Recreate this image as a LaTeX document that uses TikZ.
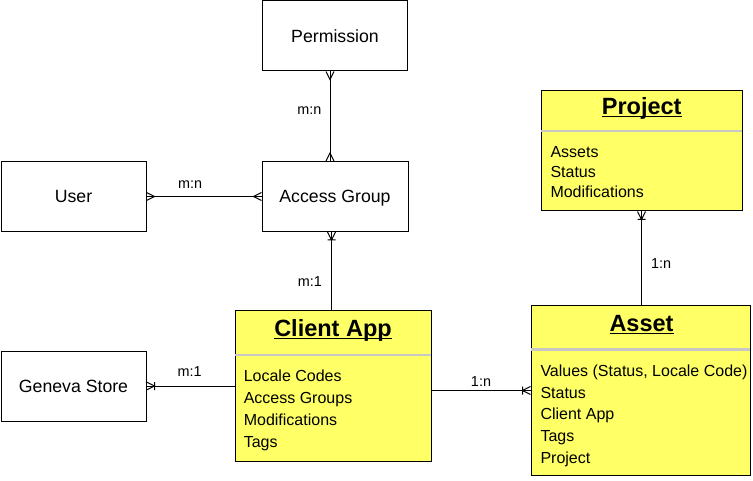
\documentclass[tikz,border=0pt]{standalone}
\usepackage{fontspec}
\setmainfont{Liberation Sans}
\usetikzlibrary{arrows.meta, positioning}

\definecolor{noteyellow}{RGB}{255,255,102}

% crow's foot tips
\pgfdeclarearrow{
  name = Crow,
  parameters = {\the\pgfarrowlength,\the\pgfarrowwidth},
  setup code = {
    \pgfarrowssettipend{0pt}
    \pgfarrowssetlineend{0pt}
    \pgfarrowssetbackend{-\pgfarrowlength}
    \pgfarrowssetvisualbackend{-\pgfarrowlength}
    \pgfarrowssavethe\pgfarrowlength
    \pgfarrowssavethe\pgfarrowwidth
  },
  drawing code = {
    \pgfpathmoveto{\pgfqpoint{0pt}{.5\pgfarrowwidth}}
    \pgfpathlineto{\pgfqpoint{-\pgfarrowlength}{0pt}}
    \pgfpathlineto{\pgfqpoint{0pt}{-.5\pgfarrowwidth}}
    \pgfusepathqstroke
  },
  defaults = {length = 8pt, width = 8pt}
}
\pgfdeclarearrow{
  name = CrowBar,
  parameters = {\the\pgfarrowlength,\the\pgfarrowwidth},
  setup code = {
    \pgfarrowssettipend{0pt}
    \pgfarrowssetlineend{0pt}
    \pgfarrowssetbackend{-\pgfarrowlength}
    \pgfarrowssetvisualbackend{-\pgfarrowlength}
    \pgfarrowssavethe\pgfarrowlength
    \pgfarrowssavethe\pgfarrowwidth
  },
  drawing code = {
    \pgfpathmoveto{\pgfqpoint{0pt}{.5\pgfarrowwidth}}
    \pgfpathlineto{\pgfqpoint{-\pgfarrowlength}{0pt}}
    \pgfpathlineto{\pgfqpoint{0pt}{-.5\pgfarrowwidth}}
    \pgfpathmoveto{\pgfqpoint{-\pgfarrowlength}{.5\pgfarrowwidth}}
    \pgfpathlineto{\pgfqpoint{-\pgfarrowlength}{-.5\pgfarrowwidth}}
    \pgfusepathqstroke
  },
  defaults = {length = 8pt, width = 8pt}
}

\begin{document}
\begin{tikzpicture}[
        x=1pt, y=-1pt,
        line width=1pt,
        entity/.style={draw, minimum height=70pt, inner sep=0pt,
            text height=12.7pt, text depth=0pt, font=\fontsize{17.7}{20}\selectfont},
        classbox/.style={draw, fill=noteyellow, inner sep=0pt},
        classname/.style={anchor=base, inner sep=0pt, font=\bfseries\fontsize{23.5}{26}\selectfont},
        field/.style={anchor=base west, inner sep=0pt, font=\fontsize{16}{18}\selectfont},
        card/.style={inner sep=0pt, font=\fontsize{14.4}{16}\selectfont},
        divider/.style={draw=black!22, line width=2pt, shorten <=0.5pt, shorten >=0.5pt}
    ]
    \useasboundingbox (0,0) rectangle (753,481);

    % plain entities
    \node[entity, minimum width=145pt] (perm) at (335,36) {Permission};
    \node[entity, minimum width=145pt] (user) at (73.5,196.5) {User};
    \node[entity, minimum width=146pt] (group) at (335,196.5) {Access Group};
    \node[entity, minimum width=145pt] (store) at (73.5,386) {Geneva Store};

    % client app
    \node[classbox, minimum width=196pt, minimum height=150pt] (app) at (333,386) {};
    \draw[divider] ([yshift=-44pt]app.north west) -- ([yshift=-44pt]app.north east);
    \node[classname] (appname) at (333,336.7) {\underline{\smash{Client App}}};
    \foreach \txt [count=\i] in {Locale Codes, Access Groups, Modifications, Tags} {
        \node[field] (appf\i) at (243.3, {381.5+22*(\i-1)}) {\txt};
    }

    % asset
    \node[classbox, minimum width=219pt, minimum height=169pt] (asset) at (640.5,390.5) {};
    \draw[divider] ([yshift=-44pt]asset.north west) -- ([yshift=-44pt]asset.north east);
    \node[classname] (assetname) at (641.5,331.5) {\underline{\smash{Asset}}};
    \foreach \txt [count=\i] in {{Values (Status, Locale Code)}, Status, Client App, Tags, Project} {
        \node[field] (assetf\i) at (540, {376.6+21.6*(\i-1)}) {\txt};
    }

    % project
    \node[classbox, minimum width=201pt, minimum height=120pt] (proj) at (641.5,151) {};
    \draw[divider] ([yshift=-41pt]proj.north west) -- ([yshift=-41pt]proj.north east);
    \node[classname] (projname) at (641.7,114.7) {\underline{\smash{Project}}};
    \foreach \txt [count=\i] in {Assets, Status, Modifications} {
        \node[field] (projf\i) at (550, {158+19.7*(\i-1)}) {\txt};
    }

    % relations
    \coordinate (pg) at (330,0);
    \coordinate (ga) at (331.5,0);
    \draw[Crow-Crow] (perm.south -| pg) -- node[card, pos=0.44, left=8pt] (pglbl) {m:n} (group.north -| pg);
    \draw[Crow-Crow] (user.east) -- node[card, pos=0.38, above=7.5pt] (uglbl) {m:n} (group.west);
    \draw[CrowBar-] (group.south -| ga) -- node[card, pos=0.63, left=9pt] (galbl) {m:1} (app.north -| ga);
    \draw[CrowBar-] (store.east) -- node[card, pos=0.49, above=9pt] (salbl) {m:1} (store.east -| app.west);
    \draw[-CrowBar] (asset.west -| app.east) -- node[card, pos=0.5, above=3.5pt] (aalbl) {1:n} (asset.west);
    \draw[CrowBar-] (proj.south) -- node[card, pos=0.55, right=9pt] (palbl) {1:n} (proj.south |- asset.north);
\end{tikzpicture}
\end{document}
